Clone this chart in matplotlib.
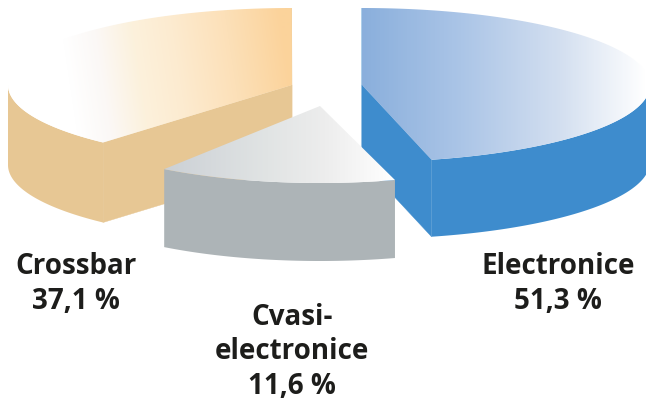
# -*- coding: utf-8 -*-
import numpy as np
import matplotlib
matplotlib.use('Agg')
import matplotlib.pyplot as plt
from matplotlib.colors import LinearSegmentedColormap
from matplotlib.patches import Polygon

# data
labels = ['Electronice', 'Crossbar', 'Cvasi-\nelectronice']
values = [51.3, 37.1, 11.6]
value_text = ['51,3 %', '37,1 %', '11,6 %']

# the drawing is not a true projection, each slice gets its own sweep factor
sweep_scale = [0.899, 1.035, 1.22]
start_angle = [90, 228.3, -74]
centers = [(362, 86), (292, 86), (320, 107)]
radii = [(288, 77), (284, 77), (272, 77)]
depth = [77, 80, 78]
side_color = ['#3e8ccd', '#e7c794', '#adb4b7']
top_stops = [
    [(0, '#8aafdc'), (0.35, '#abc5e7'), (0.7, '#d3dff0'), (1, '#ffffff')],
    [(0, '#ffffff'), (0.15, '#fbf8f6'), (0.32, '#fcf1dc'), (0.5, '#fdebd0'),
     (0.75, '#fce0b8'), (1, '#fbd39b')],
    [(0, '#cbd0d5'), (0.45, '#e1e4e4'), (0.7, '#ededed'), (1, '#ffffff')],
]
grad_x = [(362, 646), (70, 292), (163, 395)]
grad_tilt = [0, 0.15, 0]

plt.rcParams['font.family'] = ['Open Sans', 'DejaVu Sans']

fig = plt.figure(figsize=(6.46, 4.02), dpi=100)
ax = fig.add_axes([0, 0, 1, 1])


def arc(i):
    cx, cy = centers[i]
    rx, ry = radii[i]
    sweep = values[i] * 3.6 * sweep_scale[i]
    # clockwise from the start angle, y axis is flipped so minus on the sine
    t = np.radians(start_angle[i] - np.linspace(0, sweep, 240))
    return cx + rx * np.cos(t), cy - ry * np.sin(t)


for i in [1, 0, 2]:
    cx, cy = centers[i]
    x, y = arc(i)
    d = depth[i]
    # outer wall, only the front half of the rim shows
    front = y >= cy
    wx, wy = x[front], y[front]
    wall = np.r_[np.c_[wx, wy], np.c_[wx[::-1], wy[::-1] + d]]
    ax.add_patch(Polygon(wall, closed=True, fc=side_color[i], ec='none', zorder=i + 1))
    # cut faces, the small slice hides its own
    if i != 2:
        for k in [0, -1]:
            face = [(cx, cy), (x[k], y[k]), (x[k], y[k] + d), (cx, cy + d)]
            ax.add_patch(Polygon(face, closed=True, fc=side_color[i], ec=side_color[i], lw=0.3,
                                 zorder=i + 1))
    # top face with the gradient, clipped to the slice
    top = Polygon(np.r_[[(cx, cy)], np.c_[x, y]], closed=True, fc='none', ec='none',
                  transform=ax.transData)
    ax.add_patch(top)
    gx, gy = np.meshgrid(np.linspace(0, 646, 647), np.linspace(0, 402, 403))
    g = (gx - grad_tilt[i] * (gy - 90) - grad_x[i][0]) / (grad_x[i][1] - grad_x[i][0])
    cmap = LinearSegmentedColormap.from_list('top%d' % i, top_stops[i])
    im = ax.imshow(np.clip(g, 0, 1), extent=(0, 646, 402, 0), cmap=cmap, vmin=0, vmax=1,
                   aspect='auto', zorder=i + 1.5, interpolation='bilinear')
    im.set_clip_path(top)

ax.set_xlim(0, 646)
ax.set_ylim(402, 0)
ax.axis('off')

# labels
font = dict(fontsize=20, fontweight='bold', color='#1d1d1b', ha='center', va='center',
            linespacing=1.25)
ax.text(558, 284, labels[0] + '\n' + value_text[0], **font)
ax.text(76, 284, labels[1] + '\n' + value_text[1], **font)
ax.text(292, 352, labels[2] + '\n' + value_text[2], **font)

plt.savefig('out.png', dpi=100)
